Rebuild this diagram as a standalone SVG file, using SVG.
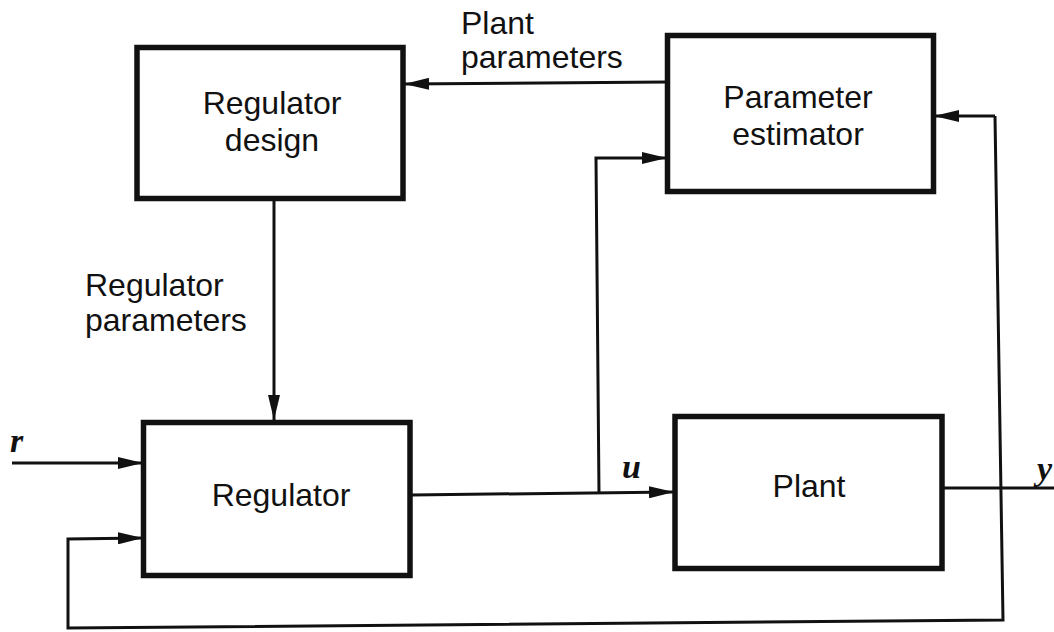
<svg xmlns="http://www.w3.org/2000/svg" width="1054" height="632" viewBox="0 0 1054 632">
<style>
.box{fill:#fff;stroke:#111;stroke-width:5.5}
.lbl{font-family:"Liberation Sans",Arial,sans-serif;font-size:32px;fill:#111}
.c{text-anchor:middle}
.var{font-family:"Liberation Serif","Times New Roman",serif;font-style:italic;font-weight:bold;font-size:34px;fill:#111}
.wire{fill:none;stroke:#111;stroke-width:3}
</style>
<defs>
<marker id="ah" viewBox="0 0 25 12" refX="25" refY="6" markerWidth="25" markerHeight="12" markerUnits="userSpaceOnUse" orient="auto">
<path d="M0,0 L25,6 L0,12 Z" fill="#111"/>
</marker>
</defs>
<rect width="1054" height="632" fill="#fff"/>
<g id="connectors">
<path class="wire" d="M667,82 L404,84" marker-end="url(#ah)"/>
<path class="wire" d="M274,201 L274,420" marker-end="url(#ah)"/>
<path class="wire" d="M12,463 L143,463" marker-end="url(#ah)"/>
<path class="wire" d="M411,495 L674,492" marker-end="url(#ah)"/>
<path class="wire" d="M599,493 L596,158 L667,158" marker-end="url(#ah)"/>
<path class="wire" d="M943,488 L1054,488"/>
<path class="wire" d="M995,116 L934,116" marker-end="url(#ah)"/>
<path class="wire" d="M995,116 L1003,620 L68,628 L68,539 L143,538" marker-end="url(#ah)"/>
</g>
<g id="regulator-design">
<rect class="box" x="137" y="47.5" width="266" height="151"/>
<text class="lbl c" x="272" y="114">Regulator</text>
<text class="lbl c" x="272" y="151">design</text>
</g>
<g id="parameter-estimator">
<rect class="box" x="667.5" y="35.5" width="266" height="156"/>
<text class="lbl c" x="798" y="108">Parameter</text>
<text class="lbl c" x="798" y="145">estimator</text>
</g>
<g id="regulator">
<rect class="box" x="143.5" y="422.5" width="266.5" height="153"/>
<text class="lbl c" x="281" y="506">Regulator</text>
</g>
<g id="plant">
<rect class="box" x="675" y="416.5" width="267" height="152"/>
<text class="lbl c" x="809" y="497">Plant</text>
</g>
<g id="labels">
<text class="lbl" x="461" y="34">Plant</text>
<text class="lbl" x="461" y="68">parameters</text>
<text class="lbl" x="85" y="296">Regulator</text>
<text class="lbl" x="85" y="331">parameters</text>
<text class="var" x="10" y="452">r</text>
<text class="var" x="622" y="478">u</text>
<text class="var" x="1037" y="480">y</text>
</g>
</svg>
